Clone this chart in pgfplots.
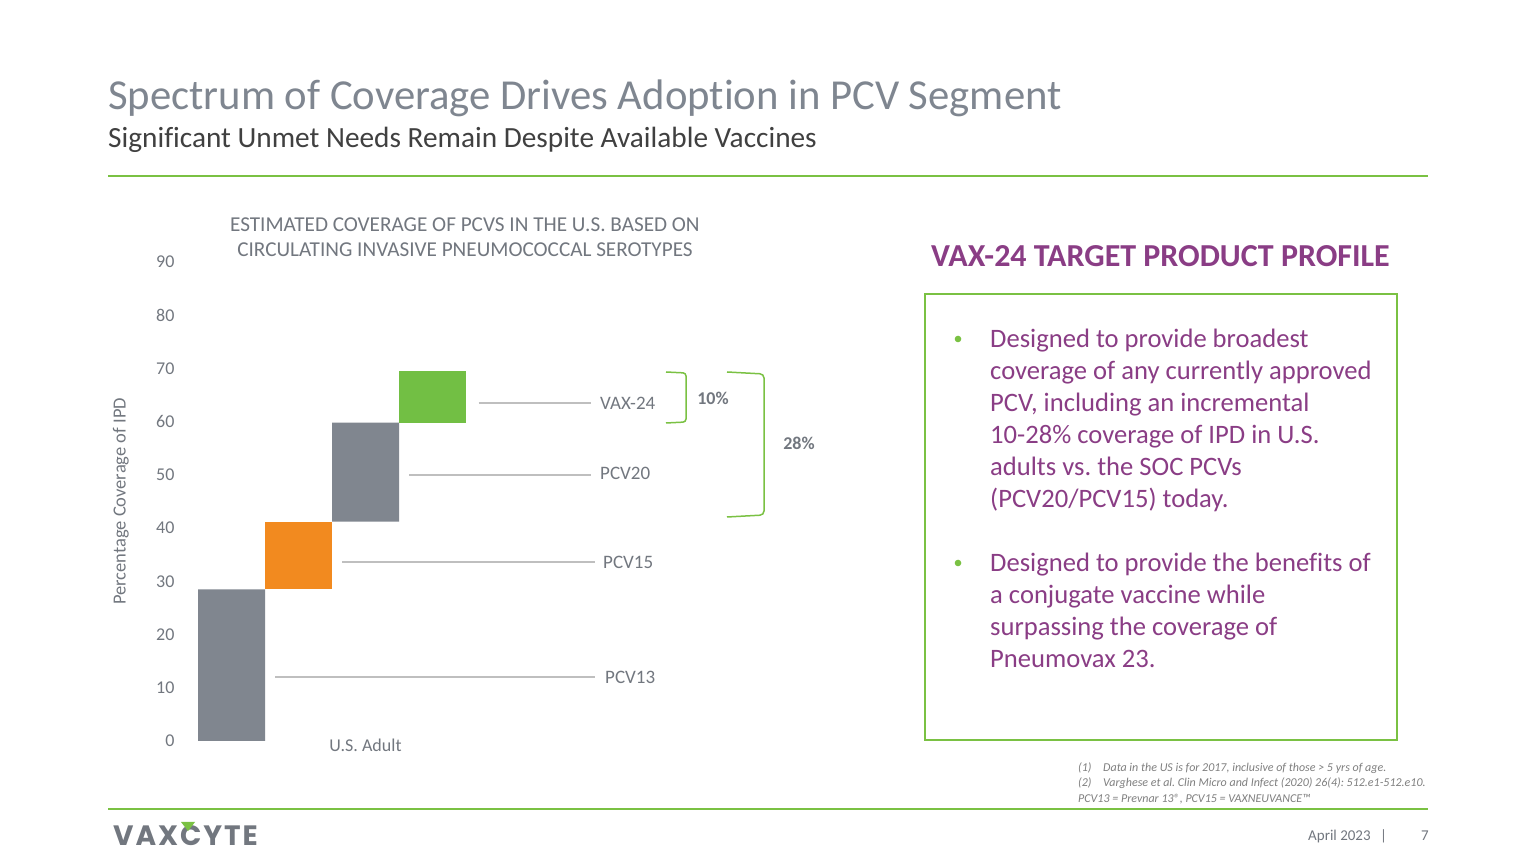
\documentclass[border=0pt]{standalone}
\usepackage{fontspec}
\setmainfont{Carlito}[Ligatures=NoCommon]
\newfontfamily\logofont{Poppins}[LetterSpace=7]
\usepackage{pgfplots}
\pgfplotsset{compat=1.18}
\definecolor{titlegray}{HTML}{7F8690}
\definecolor{subgray}{HTML}{404040}
\definecolor{tickgray}{HTML}{72777F}
\definecolor{bargray}{HTML}{80868F}
\definecolor{barorange}{HTML}{F28A1F}
\definecolor{bargreen}{HTML}{72BF44}
\definecolor{linegreen}{HTML}{7AC143}
\definecolor{vpurple}{HTML}{8A3D85}
\definecolor{leadgray}{HTML}{BFBFBF}
\definecolor{footgray}{HTML}{7F7F7F}
\frenchspacing
\begin{document}
\frenchspacing
\begin{tikzpicture}[x=1pt,y=1pt]
\path[use as bounding box, fill=white] (0,0) rectangle (1536,864);
% header
\node[anchor=base west, inner sep=0, text=titlegray, font=\fontsize{42.7}{50}\selectfont] at (108,754) {Spectrum of Coverage Drives Adoption in PCV Segment};
\node[anchor=base west, inner sep=0, text=subgray, font=\fontsize{29.3}{34}\selectfont] at (108,716) {Significant Unmet Needs Remain Despite Available Vaccines};
\draw[linegreen, line width=1.5pt] (108,688) -- (1428,688);

\begin{axis}[
  at={(198pt,123pt)}, anchor=south west,
  x=67pt, y=5.3222pt,
  xmin=-0.5, xmax=6, ymin=0, ymax=90,
  enlargelimits=false, clip=false,
  ybar stacked, bar width=1,
  axis line style={draw=none},
  major tick length=0pt,
  ytick={0,10,20,30,40,50,60,70,80,90},
  xtick={2}, xticklabels={U.S. Adult},
  /pgf/number format/assume math mode=true,
  yticklabel style={font=\fontsize{18}{18}\selectfont, text=tickgray, xshift=-20pt},
  xticklabel style={font=\fontsize{18}{18}\selectfont, text=tickgray, yshift=5.5pt},
  ylabel={Percentage Coverage of IPD},
  ylabel style={at={(axis description cs:-0.177,0.5)}, anchor=center, font=\fontsize{18.5}{18}\selectfont, text=tickgray},
  title={ESTIMATED COVERAGE OF PCVS IN THE U.S. BASED ON\\CIRCULATING INVASIVE PNEUMOCOCCAL SEROTYPES},
  title style={at={(axis description cs:0.613,1)}, anchor=south, align=center, yshift=-4pt, font=\fontsize{21.2}{25}\selectfont, text=tickgray},
]
% invisible base of the waterfall
\addplot[draw=none, fill=none] coordinates {(0,0) (1,28.5) (2,41.2) (3,59.8)};
% PCV13 and PCV20 increments (gray)
\addplot[draw=none, fill=bargray] coordinates {(0,28.5) (1,0) (2,18.6) (3,0)};
% PCV15 increment (orange)
\addplot[draw=none, fill=barorange] coordinates {(0,0) (1,12.7) (2,0) (3,0)};
% VAX-24 increment (green)
\addplot[draw=none, fill=bargreen] coordinates {(0,0) (1,0) (2,0) (3,9.7)};
% leader lines and labels
\draw[leadgray, line width=1.5pt] (axis cs:3.69,63.5) -- (axis cs:5.37,63.5);
\draw[leadgray, line width=1.5pt] (axis cs:2.65,50.0) -- (axis cs:5.37,50.0);
\draw[leadgray, line width=1.5pt] (axis cs:1.65,33.6) -- (axis cs:5.43,33.6);
\draw[leadgray, line width=1.5pt] (axis cs:0.65,12.0) -- (axis cs:5.43,12.0);
\node[anchor=west, inner sep=0, text=tickgray, font=\fontsize{19}{19}\selectfont] at (axis cs:5.50,63.5) {VAX-24};
\node[anchor=west, inner sep=0, text=tickgray, font=\fontsize{19}{19}\selectfont] at (axis cs:5.50,50.3) {PCV20};
\node[anchor=west, inner sep=0, text=tickgray, font=\fontsize{19}{19}\selectfont] at (axis cs:5.545,33.6) {PCV15};
\node[anchor=west, inner sep=0, text=tickgray, font=\fontsize{19}{19}\selectfont] at (axis cs:5.575,12.0) {PCV13};
\end{axis}

% brackets
\draw[linegreen, line width=1.5pt, rounded corners=3pt] (666,492) -- (686,491) -- (686,442) -- (666,441);
\draw[linegreen, line width=1.5pt, rounded corners=4pt] (727,492) -- (764,490) -- (764,349) -- (727,347);
\node[text=tickgray, font=\bfseries\fontsize{18}{18}\selectfont] at (713,466) {10\%};
\node[text=tickgray, font=\bfseries\fontsize{18}{18}\selectfont] at (799,421) {28\%};

% right panel
\node[anchor=base, inner sep=0, text=vpurple, font=\bfseries\fontsize{32}{38}\selectfont] at (1160.5,597) {VAX-24 TARGET PRODUCT PROFILE};
\draw[linegreen, line width=2pt] (925,570) rectangle (1397,124);
\fill[linegreen] (958,525) circle (3.3);
\fill[linegreen] (958,301) circle (3.3);
\begin{scope}[every node/.style={anchor=base west, inner sep=0, text=vpurple, font=\fontsize{26.6}{32}\selectfont}]
\node at (990,516) {Designed to provide broadest};
\node at (990,484) {coverage of any currently approved};
\node at (990,452) {PCV, including an incremental};
\node at (990,420) {10-28\% coverage of IPD in U.S.};
\node at (990,388) {adults vs. the SOC PCVs};
\node at (990,356) {(PCV20/PCV15) today.};
\node at (990,292) {Designed to provide the benefits of};
\node at (990,260) {a conjugate vaccine while};
\node at (990,228) {surpassing the coverage of};
\node at (990,196) {Pneumovax 23.};
\end{scope}

% footnotes
\begin{scope}[every node/.style={anchor=base west, inner sep=0, text=footgray, font=\itshape\fontsize{12}{14}\selectfont}]
\node at (1078,92) {(1)};
\node at (1103,92) {Data in the US is for 2017, inclusive of those > 5 yrs of age.};
\node at (1078,77) {(2)};
\node at (1103,77) {Varghese et al. Clin Micro and Infect (2020) 26(4): 512.e1-512.e10.};
\node at (1078,61) {PCV13 = Prevnar 13®, PCV15 = VAXNEUVANCE™};
\end{scope}
\draw[linegreen, line width=1.5pt] (108,55) -- (1428,55);

% footer
\node[anchor=base west, inner sep=0, text=tickgray, font=\logofont\bfseries\fontsize{28}{30}\selectfont] at (113,18) {VAXCYTE};
\fill[linegreen] (181,42) -- (195,42) -- (188,33) -- cycle;
\node[anchor=base west, inner sep=0, text=tickgray, font=\fontsize{15}{18}\selectfont] at (1308,23) {April 2023};
\node[anchor=base west, inner sep=0, text=tickgray, font=\fontsize{15}{18}\selectfont] at (1380,23) {|};
\node[anchor=base west, inner sep=0, text=tickgray, font=\fontsize{15}{18}\selectfont] at (1421,23) {7};
\end{tikzpicture}
\end{document}
